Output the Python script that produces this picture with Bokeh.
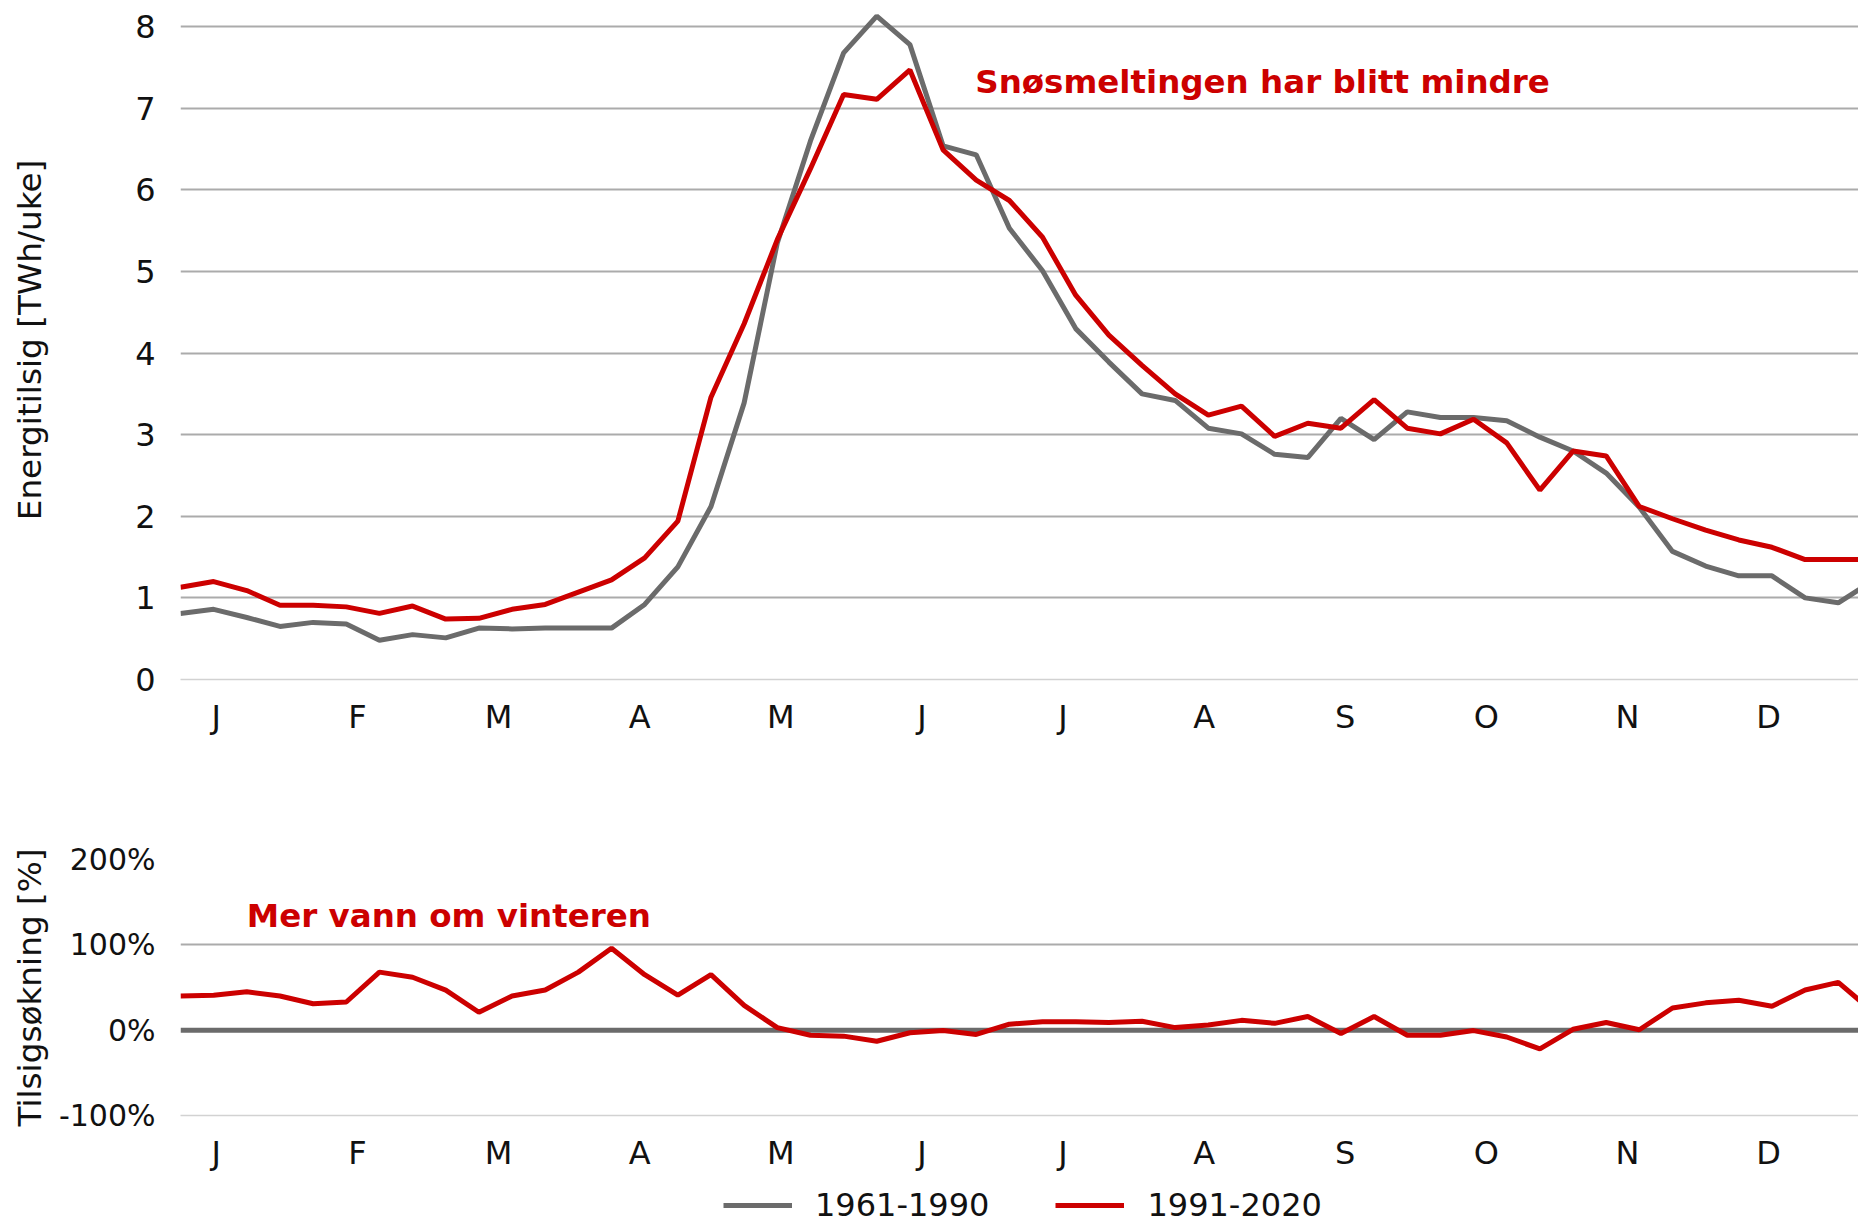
from bokeh.plotting import figure
from bokeh.layouts import column
from bokeh.models import (Range1d, FixedTicker, CustomJSTickFormatter, Label,
                          Legend, LegendItem)
from bokeh.embed import file_html
from bokeh.resources import INLINE

# ---------------- data ----------------
weeks = list(range(1, 53))

tilsig_1961_1990 = [0.81, 0.86, 0.76, 0.65, 0.70, 0.68, 0.48, 0.55, 0.51, 0.63,
                    0.62, 0.63, 0.63, 0.63, 0.92, 1.38, 2.12, 3.39, 5.35, 6.60,
                    7.68, 8.13, 7.78, 6.54, 6.43, 5.53, 5.01, 4.30, 3.89, 3.50,
                    3.42, 3.08, 3.01, 2.76, 2.72, 3.20, 2.94, 3.28, 3.21, 3.21,
                    3.17, 2.97, 2.80, 2.53, 2.11, 1.57, 1.39, 1.27, 1.27, 1.00,
                    0.94, 1.20]

tilsig_1991_2020 = [1.13, 1.20, 1.09, 0.91, 0.91, 0.89, 0.81, 0.90, 0.74, 0.75,
                    0.86, 0.92, 1.07, 1.22, 1.49, 1.94, 3.46, 4.36, 5.39, 6.26,
                    7.17, 7.11, 7.47, 6.49, 6.12, 5.87, 5.42, 4.71, 4.22, 3.85,
                    3.50, 3.24, 3.35, 2.98, 3.14, 3.08, 3.43, 3.08, 3.01, 3.19,
                    2.90, 2.32, 2.80, 2.74, 2.12, 1.97, 1.83, 1.71, 1.62, 1.47,
                    1.47, 1.47]

okning_1961_1990 = [0.0, 0.0, 0.0, 0.0, 0.0, 0.0, 0.0, 0.0, 0.0, 0.0,
                    0.0, 0.0, 0.0, 0.0, 0.0, 0.0, 0.0, 0.0, 0.0, 0.0,
                    0.0, 0.0, 0.0, 0.0, 0.0, 0.0, 0.0, 0.0, 0.0, 0.0,
                    0.0, 0.0, 0.0, 0.0, 0.0, 0.0, 0.0, 0.0, 0.0, 0.0,
                    0.0, 0.0, 0.0, 0.0, 0.0, 0.0, 0.0, 0.0, 0.0, 0.0,
                    0.0, 0.0]

okning_1991_2020 = [40, 41, 45, 40, 31, 33, 68, 62, 47, 21,
                    40, 47, 68, 96, 65, 41, 65, 29, 3, -6,
                    -7, -13, -3, -0.5, -5, 7, 10, 10, 9, 10.5,
                    3, 6, 11.5, 8, 16, -4, 16, -6, -6, -0.5,
                    -8, -22, 1, 9, 0.5, 26, 32, 35, 28, 47,
                    56, 23]

month_labels = ["J", "F", "M", "A", "M", "J", "J", "A", "S", "O", "N", "D"]
month_pos = [2.08 + m * 4.256 for m in range(12)]

top_ticks = [0, 1, 2, 3, 4, 5, 6, 7, 8]
pct_ticks = [-100, 0, 100, 200]
pct_labels = {-100: "-100%", 0: "0%", 100: "100%", 200: "200%"}

series_names = ["1961-1990", "1991-2020"]

# ---------------- style ----------------
FONT = "DejaVu Sans"
GRAY = "#6b6b6b"
RED = "#cc0000"
GRID = "#ababab"
AXISLINE = "#d2d2d2"
W = 1858
X0, X1 = 1, 51.61

month_fmt = CustomJSTickFormatter(args=dict(pos=month_pos, labels=month_labels), code="""
    for (let i = 0; i < pos.length; i++) {
        if (Math.abs(pos[i] - tick) < 0.01) return labels[i];
    }
    return "";
""")


def style(p, ylab, tick_size, label_standoff):
    p.outline_line_color = None
    p.background_fill_color = "white"
    p.border_fill_color = "white"
    p.xgrid.grid_line_color = None
    p.ygrid.grid_line_color = GRID
    p.ygrid.grid_line_width = 2
    p.xaxis.ticker = FixedTicker(ticks=month_pos)
    p.xaxis.formatter = month_fmt
    for ax in (p.xaxis[0], p.yaxis[0]):
        ax.major_tick_line_color = None
        ax.minor_tick_line_color = None
        ax.major_label_text_font = FONT
        ax.major_label_text_color = "#111111"
    p.xaxis.major_label_text_font_size = "32px"
    p.xaxis.major_label_standoff = 12
    p.xaxis.axis_line_color = AXISLINE
    p.xaxis.axis_line_width = 1.5
    p.yaxis.axis_line_color = None
    p.yaxis.major_label_text_font_size = tick_size
    p.yaxis.major_label_standoff = 19
    p.yaxis.axis_label = ylab
    p.yaxis.axis_label_text_font = FONT
    p.yaxis.axis_label_text_font_size = "32.7px"
    p.yaxis.axis_label_text_font_style = "normal"
    p.yaxis.axis_label_text_color = "#111111"
    p.yaxis.axis_label_standoff = label_standoff


# ---------------- top chart ----------------
p1 = figure(width=W, height=780, output_backend="svg", toolbar_location=None,
            x_range=Range1d(X0, X1), y_range=Range1d(0, 8.321),
            min_border_left=180, min_border_right=0, min_border_top=0,
            min_border_bottom=101)
style(p1, "Energitilsig [TWh/uke]", "32px", 83)
p1.yaxis.ticker = FixedTicker(ticks=top_ticks)
p1.ygrid.ticker = FixedTicker(ticks=top_ticks[1:])

p1.line(weeks, tilsig_1961_1990, line_color=GRAY, line_width=5)
p1.line(weeks, tilsig_1991_2020, line_color=RED, line_width=5)
p1.add_layout(Label(x=24.97, y=7.32, text="Snøsmeltingen har blitt mindre",
                    text_font=FONT, text_font_size="32.5px", text_font_style="bold",
                    text_color=RED, text_baseline="middle"))

# ---------------- bottom chart ----------------
p2 = figure(width=W, height=400, output_backend="svg", toolbar_location=None,
            x_range=p1.x_range, y_range=Range1d(-100, 200),
            min_border_left=180, min_border_right=0, min_border_top=79,
            min_border_bottom=65)
style(p2, "Tilsigsøkning [%]", "30px", 7)
p2.yaxis.ticker = FixedTicker(ticks=pct_ticks)
p2.yaxis.major_label_overrides = pct_labels
p2.ygrid.ticker = FixedTicker(ticks=[100, 200])

p2.line(weeks, okning_1961_1990, line_color=GRAY, line_width=5)
p2.line(weeks, okning_1991_2020, line_color=RED, line_width=5)
p2.add_layout(Label(x=3.0, y=133.6, text="Mer vann om vinteren",
                    text_font=FONT, text_font_size="32.5px", text_font_style="bold",
                    text_color=RED, text_baseline="middle"))

# ---------------- legend strip ----------------
# the series are drawn again here, but far outside this strip's visible y range,
# so that only their legend entries show
p3 = figure(width=W, height=44, output_backend="svg", toolbar_location=None,
            x_range=p1.x_range, y_range=Range1d(100, 101),
            x_axis_location=None, y_axis_location=None,
            min_border_left=0, min_border_right=0, min_border_top=0,
            min_border_bottom=0)
p3.outline_line_color = None
p3.xgrid.grid_line_color = None
p3.ygrid.grid_line_color = None
g_old = p3.line(weeks, tilsig_1961_1990, line_color=GRAY, line_width=5)
g_new = p3.line(weeks, tilsig_1991_2020, line_color=RED, line_width=5)
legend = Legend(items=[LegendItem(label=series_names[0], renderers=[g_old]),
                       LegendItem(label=series_names[1], renderers=[g_new])],
                orientation="horizontal", location=(543, 0),
                label_text_font=FONT, label_text_font_size="32px",
                label_text_color="#111111",
                glyph_width=69, glyph_height=20, label_standoff=23, spacing=66,
                padding=0, margin=0, border_line_color=None,
                background_fill_alpha=0)
p3.add_layout(legend, "center")

layout = column(p1, p2, p3, spacing=0)
open("out.html", "w").write(file_html(layout, INLINE))
